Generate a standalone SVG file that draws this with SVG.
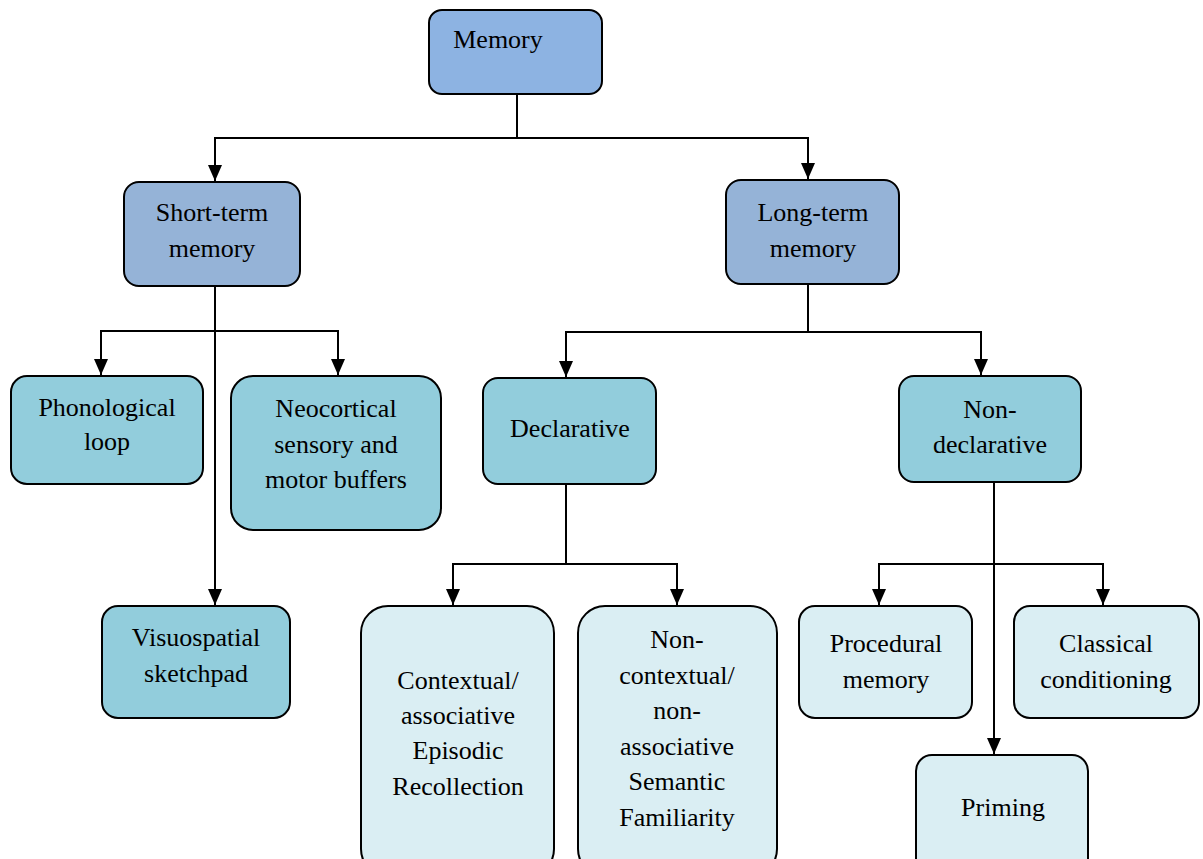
<svg xmlns="http://www.w3.org/2000/svg" width="1203" height="859" viewBox="0 0 1203 859">
<defs>
<style>
.n rect{stroke:#000;stroke-width:2}
.l0{fill:#8DB3E2}
.l1{fill:#95B3D7}
.l2{fill:#92CDDC}
.l3{fill:#DAEEF3}
text{font-family:"Liberation Serif","Times New Roman",serif;font-size:26px;fill:#000;text-anchor:middle}
.c path{fill:none;stroke:#000;stroke-width:2}
</style>
<marker id="ah" markerUnits="userSpaceOnUse" markerWidth="16" markerHeight="16" viewBox="0 0 16 16" refX="16" refY="8" orient="auto">
<path d="M0,1 L16,8 L0,15 Z" fill="#000"/>
</marker>
</defs>
<rect width="1203" height="859" fill="#fff"/>
<g class="c" id="connectors">
<path d="M517,94 V138"/>
<path d="M517,138 H215 V181" marker-end="url(#ah)"/>
<path d="M517,138 H808 V179" marker-end="url(#ah)"/>
<path d="M215,286 V605" marker-end="url(#ah)"/>
<path d="M215,331 H101 V375" marker-end="url(#ah)"/>
<path d="M215,331 H338 V375" marker-end="url(#ah)"/>
<path d="M808,284 V332"/>
<path d="M808,332 H566 V377" marker-end="url(#ah)"/>
<path d="M808,332 H981 V375" marker-end="url(#ah)"/>
<path d="M566,484 V564"/>
<path d="M566,564 H453 V605" marker-end="url(#ah)"/>
<path d="M566,564 H677 V605" marker-end="url(#ah)"/>
<path d="M994,482 V754" marker-end="url(#ah)"/>
<path d="M994,564 H879 V605" marker-end="url(#ah)"/>
<path d="M994,564 H1103 V605" marker-end="url(#ah)"/>
</g>
<g class="n" id="memory"><rect class="l0" x="429" y="10" width="173" height="84" rx="13"/><text x="498" y="48">Memory</text></g>
<g class="n" id="short-term"><rect class="l1" x="124" y="182" width="176" height="104" rx="15"/><text x="212" y="221">Short-term</text><text x="212" y="257">memory</text></g>
<g class="n" id="long-term"><rect class="l1" x="726" y="180" width="173" height="104" rx="15"/><text x="813" y="221">Long-term</text><text x="813" y="257">memory</text></g>
<g class="n" id="phonological"><rect class="l2" x="11" y="376" width="192" height="108" rx="16"/><text x="107" y="416">Phonological</text><text x="107" y="450">loop</text></g>
<g class="n" id="neocortical"><rect class="l2" x="231" y="376" width="210" height="154" rx="22"/><text x="336" y="417">Neocortical</text><text x="336" y="453">sensory and</text><text x="336" y="488">motor buffers</text></g>
<g class="n" id="visuospatial"><rect class="l2" x="102" y="606" width="188" height="112" rx="16"/><text x="196" y="646">Visuospatial</text><text x="196" y="682">sketchpad</text></g>
<g class="n" id="declarative"><rect class="l2" x="483" y="378" width="173" height="106" rx="15"/><text x="570" y="437">Declarative</text></g>
<g class="n" id="non-declarative"><rect class="l2" x="899" y="376" width="182" height="106" rx="15"/><text x="990" y="418">Non-</text><text x="990" y="453">declarative</text></g>
<g class="n" id="contextual"><rect class="l3" x="361" y="606" width="193" height="270" rx="27"/><text x="458" y="689">Contextual/</text><text x="458" y="724">associative</text><text x="458" y="759">Episodic</text><text x="458" y="795">Recollection</text></g>
<g class="n" id="non-contextual"><rect class="l3" x="578" y="606" width="199" height="270" rx="27"/><text x="677" y="648">Non-</text><text x="677" y="684">contextual/</text><text x="677" y="719">non-</text><text x="677" y="755">associative</text><text x="677" y="790">Semantic</text><text x="677" y="826">Familiarity</text></g>
<g class="n" id="procedural"><rect class="l3" x="799" y="606" width="173" height="112" rx="16"/><text x="886" y="652">Procedural</text><text x="886" y="688">memory</text></g>
<g class="n" id="classical"><rect class="l3" x="1014" y="606" width="185" height="112" rx="16"/><text x="1106" y="652">Classical</text><text x="1106" y="688">conditioning</text></g>
<g class="n" id="priming"><rect class="l3" x="916" y="755" width="172" height="120" rx="16"/><text x="1003" y="816">Priming</text></g>
</svg>
